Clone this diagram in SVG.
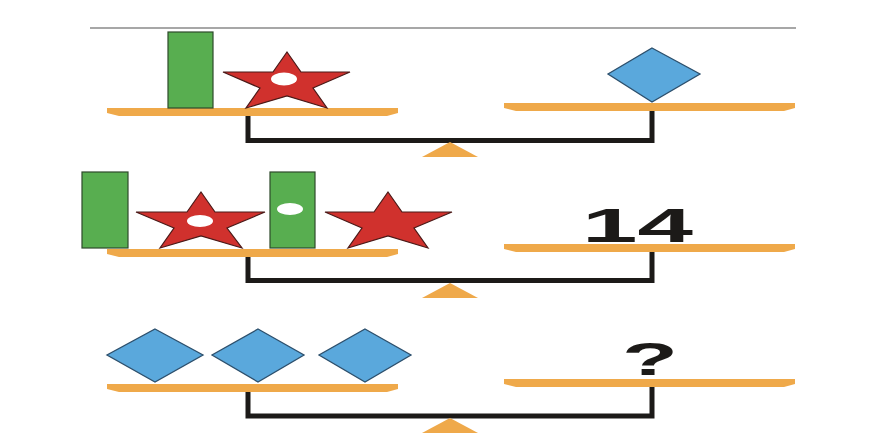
<svg xmlns="http://www.w3.org/2000/svg" width="888" height="444" viewBox="0 0 888 444">
<style>
.pan{fill:#EFA94A}
.beam{fill:none;stroke:#1c1a18;stroke-width:5;stroke-linejoin:miter}
.fulcrum{fill:#EFA94A}
.block{fill:#58AE50;stroke:#2d4a2a;stroke-width:1.2}
.star{fill:#D0312D;stroke:#4a1a18;stroke-width:1.2;stroke-linejoin:miter}
.dot{fill:#ffffff}
.gem{fill:#5AA8DC;stroke:#2c4f6c;stroke-width:1.3}
.num{font-family:"Liberation Sans",Arial,sans-serif;font-weight:bold;fill:#1c1a18}
</style>
<defs>
<path id="panL" d="M0,0 H291 V5 L280,8 H12 L0,5 Z"/>
</defs>
<rect width="888" height="444" fill="#ffffff"/>
<line x1="90" y1="28" x2="796" y2="28" stroke="#8a8a8a" stroke-width="1.6"/>

<g id="connectors">
<path class="beam" d="M248,112 V140.5 H652 V108"/>
<path class="beam" d="M248,253 V280.5 H652 V249"/>
<path class="beam" d="M248,389 V416 H652 V384"/>
</g>

<g id="scale1">
<g id="fulcrum1"><polygon class="fulcrum" points="450,142 478,157 422,157"/></g>
<g id="pan1L"><use href="#panL" class="pan" x="107" y="108"/></g>
<g id="pan1R"><use href="#panL" class="pan" x="504" y="103"/></g>
<g id="block1"><rect class="block" x="168" y="32" width="45" height="76"/></g>
<g id="star1"><polygon class="star" points="287,52 301,72 350,72 313,88 327,108 287,96 246,108 260,88 223,72 273,72"/><ellipse class="dot" cx="284" cy="79" rx="13" ry="6.5"/></g>
<g id="gem1"><polygon class="gem" points="652,48 700,74 652,102 608,74"/></g>
</g>

<g id="scale2">
<g id="fulcrum2"><polygon class="fulcrum" points="450,283 478,298 422,298"/></g>
<g id="pan2L"><use href="#panL" class="pan" x="107" y="249"/></g>
<g id="pan2R"><use href="#panL" class="pan" x="504" y="244"/></g>
<g id="block2"><rect class="block" x="82" y="172" width="46" height="76"/></g>
<g id="star2"><polygon class="star" points="201,192 215,212 265,212 227,228 242,248 201,236 160,248 174,228 136,212 187,212"/><ellipse class="dot" cx="200" cy="221" rx="13" ry="6"/></g>
<g id="block3"><rect class="block" x="270" y="172" width="45" height="76"/><ellipse class="dot" cx="290" cy="209" rx="13" ry="6"/></g>
<g id="star3"><polygon class="star" points="388,192 402,212 452,212 414,228 428,248 388,236 348,248 362,228 325,212 374,212"/></g>
<g id="label14"><text class="num" x="582" y="242" font-size="49" textLength="111" lengthAdjust="spacingAndGlyphs">14</text></g>
</g>

<g id="scale3">
<g id="fulcrum3"><polygon class="fulcrum" points="450,418 478,433 422,433"/></g>
<g id="pan3L"><use href="#panL" class="pan" x="107" y="384"/></g>
<g id="pan3R"><use href="#panL" class="pan" x="504" y="379"/></g>
<g id="gem2"><polygon class="gem" points="155,329 203,355 155,382 107,355"/></g>
<g id="gem3"><polygon class="gem" points="258,329 304,355 258,382 212,355"/></g>
<g id="gem4"><polygon class="gem" points="365,329 411,355 365,382 319,355"/></g>
<g id="labelQ"><text class="num" x="622" y="375" font-size="46" textLength="56" lengthAdjust="spacingAndGlyphs">?</text></g>
</g>
</svg>
